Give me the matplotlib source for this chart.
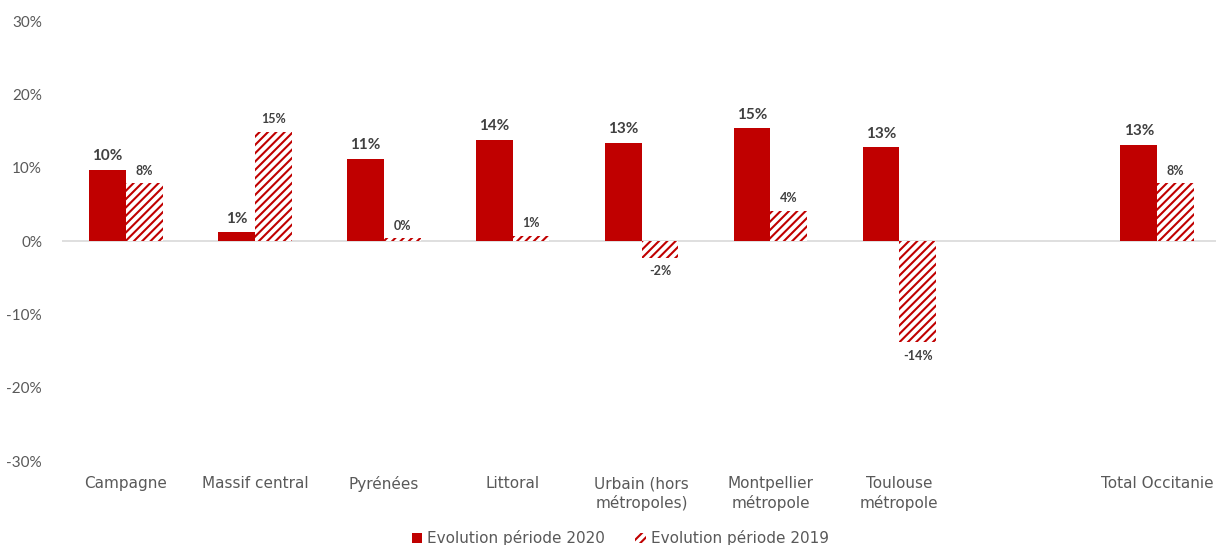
import matplotlib.pyplot as plt
import numpy as np

plt.rcParams['font.family'] = ['Lato', 'DejaVu Sans']
plt.rcParams['hatch.linewidth'] = 1.5

categories = ['Campagne', 'Massif central', 'Pyrénées', 'Littoral',
              'Urbain (hors\nmétropoles)', 'Montpellier\nmétropole',
              'Toulouse\nmétropole', '', 'Total Occitanie']
evol_2020 = [9.7, 1.2, 11.2, 13.8, 13.4, 15.4, 12.8, np.nan, 13.1]
evol_2019 = [7.9, 14.9, 0.4, 0.7, -2.3, 4.1, -13.8, np.nan, 7.9]
labels_2020 = ['10%', '1%', '11%', '14%', '13%', '15%', '13%', '', '13%']
labels_2019 = ['8%', '15%', '0%', '1%', '-2%', '4%', '-14%', '', '8%']
yticks = [-30, -20, -10, 0, 10, 20, 30]

red = '#C00000'
grey = '#595959'
wide = ['DejaVu Sans']

fig = plt.figure(figsize=(12.16, 5.45), dpi=100)
ax = fig.add_axes([0.0506, 0.154, 0.954, 0.8073])

x = np.arange(len(categories))
w = 0.285
b1 = ax.bar(x - w / 2, evol_2020, w, color=red, label='Evolution période 2020')
b2 = ax.bar(x + w / 2, evol_2019, w, facecolor='white', edgecolor=red,
            linewidth=0, hatch='////', label='Evolution période 2019')

for xi, v, t in zip(x, evol_2020, labels_2020):
    if t:
        ax.text(xi - w / 2, v + 0.9, t, ha='center', va='bottom',
                fontsize=11, fontweight='bold', color='#404040')
for xi, v, t in zip(x, evol_2019, labels_2019):
    if t:
        if v >= 0:
            ax.text(xi + w / 2, v + 0.9, t, ha='center', va='bottom',
                    fontsize=9, fontweight='bold', color='#404040')
        else:
            ax.text(xi + w / 2, v - 1.0, t, ha='center', va='top',
                    fontsize=9, fontweight='bold', color='#404040')

ax.set_xlim(-0.5, len(categories) - 0.5)
ax.set_ylim(-30, 30)
ax.set_yticks(yticks)
ax.set_yticklabels([f'{t}%' for t in yticks], fontsize=11, color=grey,
                   family=['Lato'])
ax.set_xticks(x)
ax.set_xticklabels(categories, fontsize=11, color=grey, linespacing=1.25,
                   family=wide)
ax.tick_params(axis='both', length=0)
ax.tick_params(axis='x', pad=11)
ax.tick_params(axis='y', pad=14)
for s in ax.spines.values():
    s.set_visible(False)
ax.axhline(0, color='#D9D9D9', linewidth=1.2, zorder=0)

fig.legend(handles=[b1, b2], loc='center', bbox_to_anchor=(0.51, 0.012),
           ncol=2, frameon=False, prop={'family': wide, 'size': 11},
           labelcolor=grey, handlelength=0.7, handleheight=0.7,
           handletextpad=0.3, columnspacing=2.0)

fig.savefig('out.png', dpi=100)
